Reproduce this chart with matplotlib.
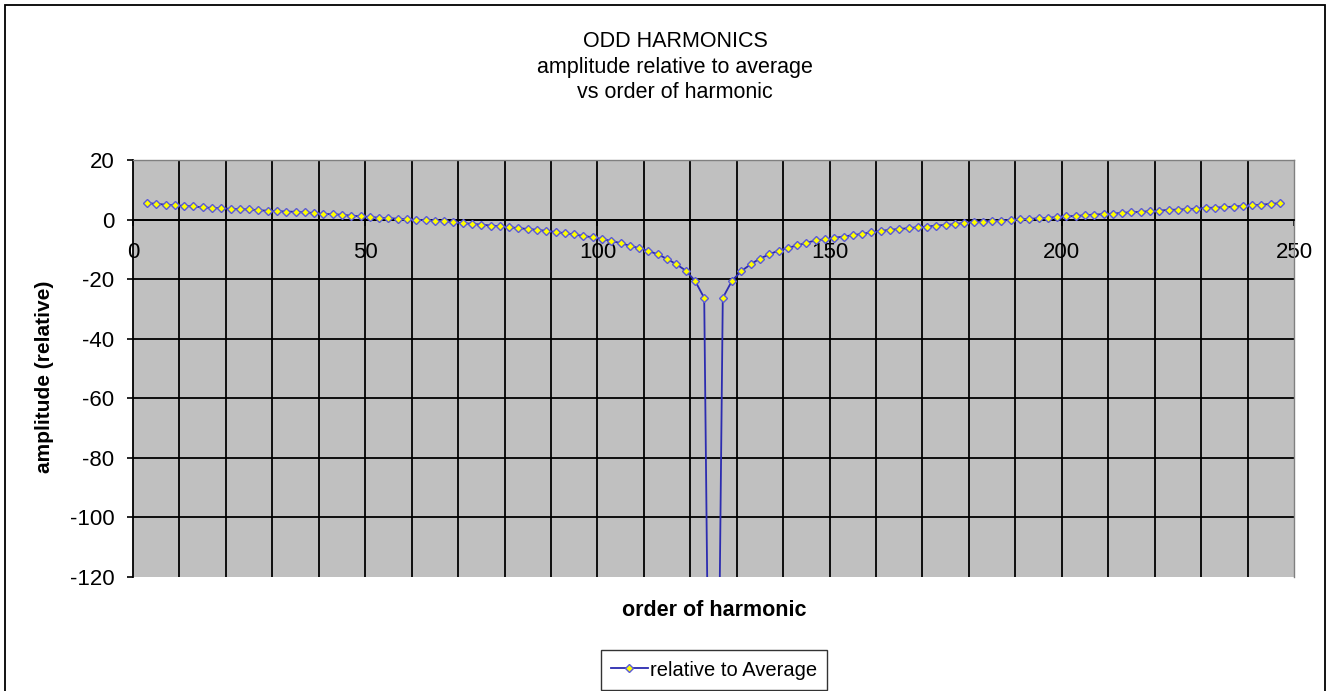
import matplotlib
matplotlib.use("Agg")
import matplotlib.pyplot as plt
from matplotlib.patches import Rectangle

plt.rcParams['font.family'] = ['Liberation Sans', 'DejaVu Sans']
plt.rcParams['axes.unicode_minus'] = False

# odd harmonic orders 3..247
harmonic = list(range(3, 249, 2))

# amplitude relative to average
rel_left = [5.5, 5.3, 5.0, 4.8, 4.6, 4.4, 4.1, 3.9, 3.8, 3.6, 3.5, 3.4, 3.1,
            3.0, 2.8, 2.7, 2.6, 2.4, 2.2, 1.9, 1.8, 1.6, 1.3, 1.1, 0.9,
            0.6, 0.45, 0.3, 0.1, -0.1, -0.2, -0.35, -0.55, -0.9, -1.2, -1.45,
            -1.7, -2.0, -2.25, -2.55, -2.9, -3.15, -3.45, -3.8, -4.15, -4.6,
            -5.0, -5.5, -5.95, -6.5,
            -7.2, -7.9, -8.8, -9.6, -10.5, -11.7, -13.2, -15.0, -17.1, -20.5,
            -26.3]
rel_mid = [-320.0]
rel_right = [-26.3, -20.5, -17.3, -15.0, -13.1, -11.7, -10.4, -9.5, -8.7,
             -7.8, -7.0, -6.6, -6.1,
             -5.7, -5.25, -4.8, -4.25, -3.8, -3.45, -3.15, -2.9, -2.55, -2.35,
             -2.0, -1.8, -1.55, -1.1, -0.9, -0.65, -0.45, -0.35, -0.1, 0.1,
             0.2, 0.45, 0.55, 0.9, 1.1,
             1.2, 1.45, 1.7, 1.8, 2.0, 2.25, 2.45, 2.6, 2.8, 3.0, 3.25, 3.35,
             3.5, 3.7, 3.9, 4.0, 4.15, 4.35, 4.6, 4.8, 5.0, 5.25, 5.5]
relative = rel_left + rel_mid + rel_right

title_lines = ["ODD HARMONICS", "amplitude relative to average",
               "vs order of harmonic"]

W, H = 1330, 691
fig = plt.figure(figsize=(W / 100, H / 100), dpi=100)
fig.patch.set_facecolor('white')

# plot area in pixels: x 133..1294, y 160..577
ax = fig.add_axes([133 / W, (H - 577) / H, (1294 - 133) / W, (577 - 160) / H])
ax.set_facecolor('#C0C0C0')

ax.plot(harmonic, relative, color='#2B2BB0', lw=1.3, marker='D',
        markersize=4.5, markerfacecolor='#FFFF00', markeredgecolor='#5A5AD8',
        markeredgewidth=1.0, label='relative to Average', zorder=3)

ax.set_xlim(0, 250)
ax.set_ylim(-120, 20)

# gridlines
for gx in range(10, 250, 10):
    ax.axvline(gx, color='black', lw=1.3, zorder=1)
for gy in range(-100, 20, 20):
    ax.axhline(gy, color='black', lw=1.3, zorder=1)

ax.set_xticks(range(0, 251, 50))
ax.set_yticks(range(-120, 21, 20))

ax.spines['bottom'].set_position(('data', 0))
ax.spines['bottom'].set_color('black')
ax.spines['bottom'].set_linewidth(1.3)
ax.spines['left'].set_color('black')
ax.spines['left'].set_linewidth(1.3)
ax.spines['top'].set_color('#808080')
ax.spines['right'].set_color('#808080')
ax.spines['top'].set_linewidth(1.0)
ax.spines['right'].set_linewidth(1.0)

ax.tick_params(axis='x', direction='out', length=4, width=1.2,
               labelsize=16, pad=12)
ax.tick_params(axis='y', direction='out', length=4.5, width=1.2,
               labelsize=16, pad=9)

fig.text(45 / W, 1 - 377 / H, 'amplitude (relative)', rotation=90,
         ha='center', va='center', fontsize=15, fontweight='bold')
fig.text(714 / W, 1 - 610 / H, 'order of harmonic', ha='center',
         va='center', fontsize=15.5, fontweight='bold')

fig.text(675 / W, 1 - 67 / H, "\n".join(title_lines), ha='center',
         va='center', fontsize=15.5, linespacing=1.3)

leg = fig.legend(loc='center', bbox_to_anchor=(714 / W, 1 - 670 / H),
                 fontsize=14.5, frameon=True, fancybox=False,
                 handlelength=1.8, handletextpad=0.1, borderpad=0.5,
                 borderaxespad=0)
leg.get_frame().set_edgecolor('black')
leg.get_frame().set_linewidth(1.0)

# chart area border
fig.patches.append(Rectangle((5 / W, -0.05), 1320 / W, 1 - 5 / H + 0.05,
                             transform=fig.transFigure, fill=False,
                             edgecolor='black', lw=1.3))

fig.savefig('out.png', dpi=100)
